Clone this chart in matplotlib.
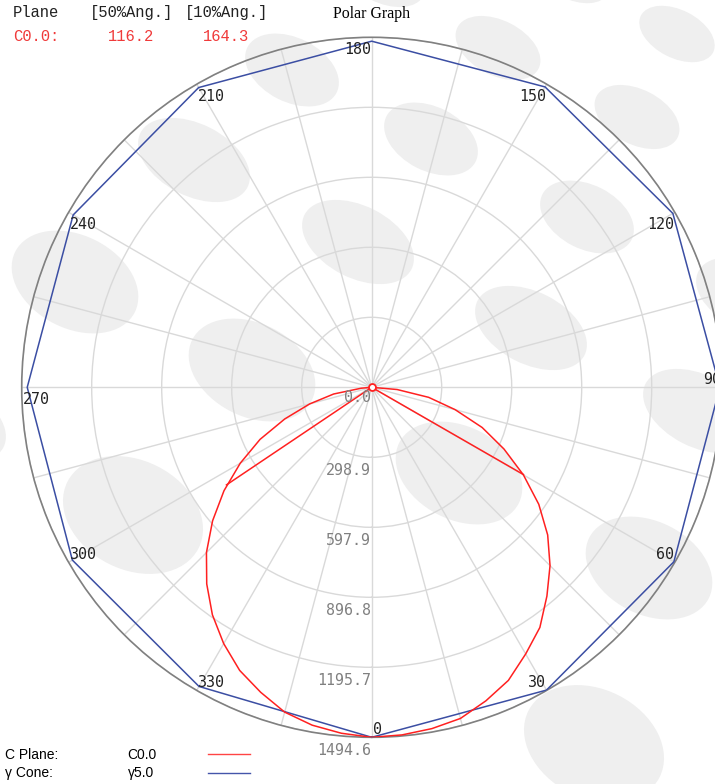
import numpy as np
import matplotlib
matplotlib.use('Agg')
import matplotlib.pyplot as plt
from matplotlib.patches import Ellipse

# --- data ---
gamma = [0, 5, 10, 15, 20, 25, 30, 35, 40, 45, 50, 55, 60, 65, 70, 75, 80, 85, 90]
c0_values = [1494.6, 1490, 1480, 1464, 1425, 1381, 1315, 1252, 1164, 1077, 981,
             871, 748, 623, 502, 369, 247, 109, 0]          # C0 half (right)
c180_values = [1494.6, 1483, 1465, 1436, 1386, 1334, 1264, 1186, 1096, 998, 887,
               770, 648, 526, 395, 274, 165, 45, 0]          # C180 half (left)

cone_c = [0, 30, 60, 90, 120, 150, 180, 210, 240, 270, 300, 330]
cone_values = [1494.6, 1493, 1490, 1487, 1485, 1481, 1478, 1478, 1472, 1471, 1476, 1475]

r_ticks = [0.0, 298.9, 597.9, 896.8, 1195.7, 1494.6]
theta_labels = [0, 30, 60, 90, 120, 150, 180, 210, 240, 270, 300, 330]

half50_right = 60.1
half50_left = 56.1
beam50 = 116.2
beam10 = 164.3

# background pattern (decoration): centre x, centre y, width, height in pixels
bg_ellipses = [
    (572, -25, 81, 48), (677, 34, 81, 48),
    (383, -25, 91, 55), (498, 48, 91, 55), (637, 117, 91, 55),
    (292, 70, 100, 64), (431, 139, 100, 64), (587, 217, 100, 64), (743, 294, 100, 64),
    (194, 160, 120, 72), (358, 242, 120, 72), (531, 328, 120, 72), (699, 411, 120, 72),
    (-50, 420, 120, 72),
    (75, 282, 134, 93), (252, 370, 134, 93), (459, 473, 134, 93), (649, 568, 134, 93),
    (133, 515, 147, 109), (594, 744, 147, 109),
]

W, H = 715, 784
cx, cy, R = 371.7, 387.3, 350.0
red = '#ff2020'
blue = '#3b4ea3'

fig = plt.figure(figsize=(W / 100, H / 100), dpi=100)
fig.patch.set_facecolor('white')

# pixel-coordinate background axes
bg = fig.add_axes([0, 0, 1, 1], zorder=0)
bg.set_xlim(0, W)
bg.set_ylim(H, 0)
bg.axis('off')
for ex, ey, ew, eh in bg_ellipses:
    bg.add_patch(Ellipse((ex, ey), ew, eh, angle=27, facecolor='#efefef', edgecolor='none'))

# polar axes
ax = fig.add_axes([(cx - R) / W, (H - cy - R) / H, 2 * R / W, 2 * R / H],
                  projection='polar', zorder=1)
ax.set_facecolor('none')
ax.set_theta_zero_location('S')
ax.set_theta_direction(1)
ax.set_rlim(0, r_ticks[-1])
ax.set_rgrids(r_ticks[1:], labels=[''] * (len(r_ticks) - 1))
ax.set_thetagrids(np.arange(0, 360, 15), labels=[''] * 24)
ax.grid(color='#d9d9d9', linewidth=1.0)
ax.spines['polar'].set_color('#808080')
ax.spines['polar'].set_linewidth(1.2)
ax.tick_params(length=0)

# C0 plane curve: left half (C180) then right half (C0)
th = np.radians(np.concatenate([-np.array(gamma[::-1]), np.array(gamma[1:])]))
rv = np.concatenate([c180_values[::-1], c0_values[1:]])
ax.plot(th, rv, color=red, lw=1.1, zorder=4)

# 50% beam angle chords
half = 0.5 * max(c0_values)
ax.plot(np.radians([half50_right, 0, -half50_left]), [half, 0, half], color=red, lw=1.1, zorder=4)
ax.plot([0], [0], marker='o', ms=5, mfc='white', mec=red, mew=1.3, zorder=5)

# gamma 5 cone
cth = np.radians(cone_c + [360])
ax.plot(cth, cone_values + [cone_values[0]], color=blue, lw=1.1, zorder=3)

# angle labels
for t in theta_labels:
    ha = 'right' if 0 < t <= 180 else 'left'
    if 90 < t <= 270:
        va, dy = 'top', -5
    else:
        va, dy = 'baseline', 3
    dx = -1 if ha == 'right' else 1
    ax.annotate(str(t), xy=(np.radians(t), r_ticks[-1]), xytext=(dx, dy),
                textcoords='offset pixels', ha=ha, va=va, fontsize=10.8,
                family='DejaVu Sans Mono', color='#222222', zorder=6)

# radial labels
for r in r_ticks:
    dy = -3 if r == 0 else -5.5
    ax.annotate('%.1f' % r, xy=(0, r), xytext=(-1, dy), textcoords='offset pixels',
                ha='right', va='top', fontsize=10.8, family='DejaVu Sans Mono',
                color='#808080', zorder=6)

# header
mono = 'Liberation Mono'
bg.text(12.7, 17, 'Plane', family=mono, fontsize=11.2, color='#222222', va='baseline')
bg.text(90, 17, '[50%Ang.]', family=mono, fontsize=11.2, color='#222222', va='baseline')
bg.text(185, 17, '[10%Ang.]', family=mono, fontsize=11.2, color='#222222', va='baseline')
bg.text(12.7, 41, 'C0.0:', family=mono, fontsize=11.2, color='#f03a3a', va='baseline')
bg.text(154, 41, '%.1f' % beam50, family=mono, fontsize=11.2, color='#f03a3a', va='baseline', ha='right')
bg.text(249.3, 41, '%.1f' % beam10, family=mono, fontsize=11.2, color='#f03a3a', va='baseline', ha='right')

bg.text(cx, 18, 'Polar Graph', family='Liberation Serif', fontsize=11.4, color='black',
        ha='center', va='baseline')

# bottom legend
sans = 'Liberation Sans'
bg.text(5, 758.7, 'C Plane:', family=sans, fontsize=10, va='baseline')
bg.text(127.7, 758.7, 'C0.0', family=sans, fontsize=10, va='baseline')
bg.text(5, 777, 'γ Cone:', family=sans, fontsize=10, va='baseline')
bg.text(127.7, 777, 'γ5.0', family=sans, fontsize=10, va='baseline')
bg.plot([208.3, 250], [754.3, 754.3], color='#ff4444', lw=1.0)
bg.plot([208.3, 250], [772.7, 772.7], color='#4455aa', lw=1.0)

fig.savefig('out.png', dpi=100)
